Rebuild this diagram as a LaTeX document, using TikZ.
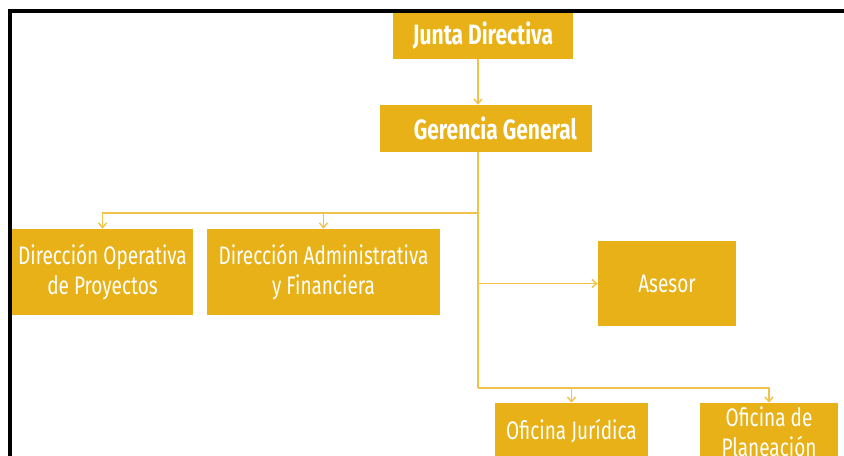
\documentclass[tikz,border=0pt]{standalone}
\usepackage{fontspec}
\setmainfont{Fira Sans}[FakeStretch=0.75]
\usepackage{tikz}
\usetikzlibrary{arrows.meta,calc}

\definecolor{oro}{HTML}{E7B117}
\definecolor{orolinea}{HTML}{F2C34B}

\tikzset{
    caja/.style={fill=oro, draw=none, text=white, align=center, inner sep=0pt, font=\fontsize{19}{22.5}\selectfont},
    cajab/.style={caja, font=\fontsize{21}{24}\selectfont\bfseries},
    linea/.style={draw=orolinea, line width=1.1pt},
    flecha/.style={linea, -{Straight Barb[length=3.5pt,width=6pt]}}
}

\begin{document}
\begin{tikzpicture}[x=0.75pt,y=0.75pt,yscale=-1,xscale=1]
        \useasboundingbox (0,0) rectangle (844,455);
        \clip (0,0) rectangle (844,455);
        % Boxes
        \node[cajab, minimum width=135pt, minimum height=34.5pt] (junta) at (483,36) {Junta Directiva};
        \node[cajab, minimum width=159pt, minimum height=35.25pt] (gerencia) at (486,128.5) {\hspace*{14pt}Gerencia General};
        \node[caja, minimum width=135.75pt, minimum height=64.5pt] (dirop) at (102.5,272) {Dirección Operativa\\de Proyectos};
        \node[caja, minimum width=174.75pt, minimum height=64.5pt] (dirad) at (323.5,272) {Dirección Administrativa\\y Financiera};
        \node[caja, minimum width=103.5pt, minimum height=63.75pt] (asesor) at (667,283.5) {Asesor};
        \node[caja, minimum width=114.75pt, minimum height=42.75pt] (juridica) at (571.5,431.5) {Oficina Jurídica};
        \node[caja, minimum width=103.5pt, minimum height=42.75pt] (planeacion) at (769,431.5) {Oficina de\\Planeación};
        % Connectors
        \coordinate (tronco) at (478,213);
        \coordinate (bajo) at (478,388);
        \draw[flecha] (junta.south -| tronco) -- (gerencia.north -| tronco);
        \draw[linea] (gerencia.south -| tronco) -- (bajo);
        \draw[flecha] (tronco) -| (dirop.north);
        \draw[flecha] (tronco) -| (dirad.north);
        \draw[flecha] (tronco |- asesor.west) -- (asesor.west);
        \draw[flecha] (bajo) -| (juridica.north);
        \draw[flecha] (bajo) -| (planeacion.north);
        % Frame
        \draw[line width=3pt, black] (10,470) -- (10,11) -- (860,11);
\end{tikzpicture}
\end{document}
